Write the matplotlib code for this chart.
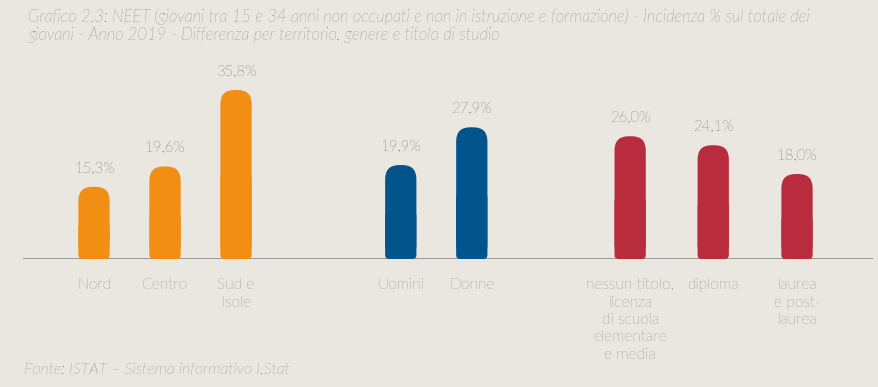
import matplotlib
matplotlib.use('Agg')
import matplotlib.pyplot as plt
from matplotlib.patches import FancyBboxPatch

plt.rcParams['font.family'] = ['Lato', 'DejaVu Sans']

# dati
categorie = ['Nord', 'Centro', 'Sud e\nIsole', 'Uomini', 'Donne',
             'nessun titolo,\nlicenza\ndi scuola\nelementare\ne media',
             'diploma', 'laurea\ne post-\nlaurea']
valori = [15.3, 19.6, 35.8, 19.9, 27.9, 26.0, 24.1, 18.0]
etichette = ['15,3%', '19,6%', '35,8%', '19,9%', '27,9%', '26,0%', '24,1%', '18,0%']
gruppi = ['territorio', 'territorio', 'territorio', 'genere', 'genere',
          'titolo', 'titolo', 'titolo']

colori_gruppo = {'territorio': '#f28e13', 'genere': '#02548d', 'titolo': '#b92c3d'}
posizioni = [0, 1, 2, 4.32, 5.32, 7.55, 8.72, 9.9]

bg = '#eae7e1'
W, H = 879, 387
fig = plt.figure(figsize=(W / 100, H / 100), dpi=100, facecolor=bg)

# asse: baseline a y=259 px, da x=23 a x=873
base_px = 259
top_px = 60
ax = fig.add_axes([23 / W, (H - base_px) / H, 850 / W, (base_px - top_px) / H])
ax.set_facecolor('none')
ax.set_xlim(-1.0, 10.97)
y_per_px = 35.8 / 169
ax.set_ylim(0, (base_px - top_px) * y_per_px)
for s in ax.spines.values():
    s.set_visible(False)
ax.set_xticks([])
ax.set_yticks([])
ax.axhline(0, color='#8c8a86', lw=1.2, zorder=1)

barre = ax.bar(posizioni, valori, width=0.44, color='none')
x_per_px = (10.97 + 1.0) / 850
aspect = y_per_px / x_per_px
for b, g in zip(barre, gruppi):
    x, w, h = b.get_x(), b.get_width(), b.get_height()
    col = colori_gruppo[g]
    r_top = 14 * x_per_px
    r_bot = 4 * x_per_px
    ax.add_patch(FancyBboxPatch((x, 0), w, h, boxstyle=f'round,pad=0,rounding_size={r_top}',
                                mutation_aspect=aspect, fc=col, ec='none', zorder=2))
    ax.add_patch(FancyBboxPatch((x, 0), w, h * 0.5, boxstyle=f'round,pad=0,rounding_size={r_bot}',
                                mutation_aspect=aspect, fc=col, ec='none', zorder=2))

for p, v, t in zip(posizioni, valori, etichette):
    ax.annotate(t, (p, v), xytext=(0, 8), textcoords='offset points', ha='center',
                va='bottom', fontsize=10.8, color='#141210', fontweight='light')

for p, c in zip(posizioni, categorie):
    ax.annotate(c, (p, 0), xytext=(0, -14), textcoords='offset points', ha='center',
                va='top', fontsize=11.2, color='#4f4a45', fontweight='light', linespacing=1.3)

fig.text(28 / W, 1 - 8 / H,
         'Grafico 2.3: NEET (giovani tra 15 e 34 anni non occupati e non in istruzione e formazione) - Incidenza % sul totale dei\n'
         'giovani - Anno 2019 - Differenza per territorio, genere e titolo di studio',
         ha='left', va='top', fontsize=11.9, style='italic', color='#4a4540',
         fontweight='light', linespacing=1.15)
fig.text(24 / W, 1 - 369 / H, 'Fonte: ISTAT – Sistema informativo I.Stat', ha='left',
         va='center', fontsize=11.5, style='italic', color='#4a4540', fontweight='light')

fig.savefig('out.png', dpi=100, facecolor=bg)
